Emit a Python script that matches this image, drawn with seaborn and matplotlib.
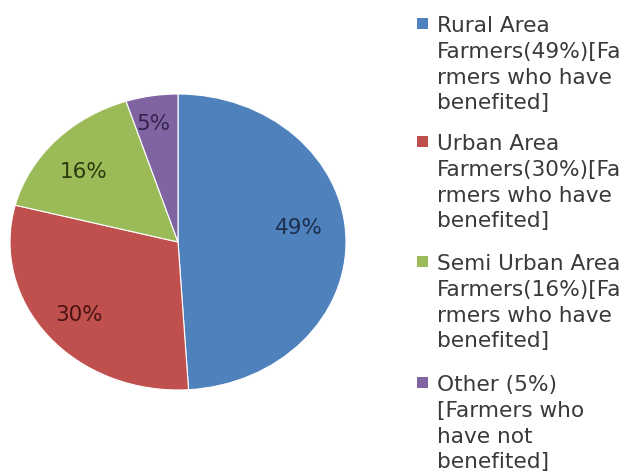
import matplotlib
matplotlib.use("Agg")
import matplotlib.pyplot as plt
from matplotlib.patches import Rectangle
import seaborn as sns

sns.set_theme(style="white")
plt.rcParams["font.family"] = ["DejaVu Sans"]

# Share of farmers by area
categories = ["Rural Area", "Urban Area", "Semi Urban Area", "Other"]
shares = [49, 30, 16, 5]
legend_labels = [
    ["Rural Area", "Farmers(49%)[Fa", "rmers who have", "benefited]"],
    ["Urban Area", "Farmers(30%)[Fa", "rmers who have", "benefited]"],
    ["Semi Urban Area", "Farmers(16%)[Fa", "rmers who have", "benefited]"],
    ["Other (5%)", "[Farmers who", "have not", "benefited]"],
]
slice_colors = ["#4F81BD", "#C0504D", "#9BBB59", "#8064A2"]
label_colors = ["#1B2E4D", "#4A1414", "#2A3A0E", "#33244D"]
# small nudges of the percentage labels (pie units)
label_nudge = [(-0.04, 0.075), (0.0, 0.0), (-0.01, -0.04), (-0.025, 0.055)]

palette = sns.color_palette(slice_colors)

W, H = 634, 477
fig = plt.figure(figsize=(W / 100, H / 100), dpi=100)
fig.patch.set_facecolor("white")

# Pie axes: stretched slightly wider than tall
cx, cy, rx, ry = 178, 243, 168, 148
ax = fig.add_axes([(cx - rx) / W, 1 - (cy + ry) / H, 2 * rx / W, 2 * ry / H])
wedges, texts, autotexts = ax.pie(
    shares,
    colors=palette,
    startangle=90,
    counterclock=False,
    autopct="%d%%",
    pctdistance=0.76,
    wedgeprops=dict(edgecolor="white", linewidth=0.8),
    textprops=dict(fontsize=15.5),
)
for t, c, (dx, dy) in zip(autotexts, label_colors, label_nudge):
    t.set_color(c)
    x, y = t.get_position()
    t.set_position((x + dx, y + dy))
ax.set_aspect("auto")
ax.set_xlim(-1, 1)
ax.set_ylim(-1, 1)
ax.axis("off")

# Legend drawn as stacked multi-line entries with square markers
entry_centers = [24, 142, 262, 383]
line_step = 25.8
text_x = 437
for lines, color, top in zip(legend_labels, slice_colors, entry_centers):
    fig.patches.append(
        Rectangle((417 / W, 1 - (top + 5.5) / H), 11 / W, 11 / H,
                  transform=fig.transFigure, facecolor=color, edgecolor="none")
    )
    for i, line in enumerate(lines):
        fig.text(text_x / W, 1 - (top + i * line_step) / H, line,
                 fontsize=15.6, color="#3A3A3A", va="center_baseline",
                 ha="left")

fig.savefig("out.png", dpi=100, facecolor="white")
